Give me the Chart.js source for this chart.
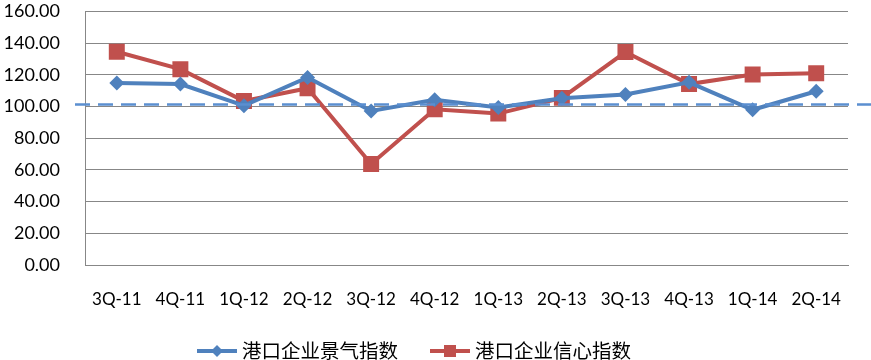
<!DOCTYPE html>
<html>
<head>
<meta charset="utf-8">
<script src="https://cdn.jsdelivr.net/npm/chart.js@4"></script>
<style>
  html, body { margin: 0; padding: 0; background: #fff; }
  #wrap { width: 871px; height: 360px; }
</style>
</head>
<body>
<div id="wrap"><canvas id="grafico"></canvas></div>
<script>
const categorias = ['3Q-11', '4Q-11', '1Q-12', '2Q-12', '3Q-12', '4Q-12', '1Q-13', '2Q-13', '3Q-13', '4Q-13', '1Q-14', '2Q-14'];
const jingqi = [114.8, 114.1, 100.5, 118.3, 97.1, 104.2, 99.3, 105.2, 107.5, 115.2, 97.9, 109.6];
const xinxin = [134.5, 123.5, 103.4, 111.5, 63.7, 98.2, 95.5, 105.4, 134.3, 114.1, 120.2, 121.0];
const nombres = ['港口企业景气指数', '港口企业信心指数'];
const linea_base = 101.3;

const azul = '#4f81bd';
const rojo = '#c0504d';
const fuente = "Lato, 'Noto Sans CJK SC', sans-serif";
const fuente_cjk = "'Noto Sans CJK SC', sans-serif";

// dashed reference line across the whole width
const lineaPunteada = {
    id: 'lineaPunteada',
    afterDatasetsDraw(chart) {
        const ctx = chart.ctx;
        const y = chart.scales.y.getPixelForValue(linea_base);
        ctx.save();
        ctx.strokeStyle = '#5b8fd0';
        ctx.lineWidth = 2.5;
        ctx.setLineDash([15, 8]);
        ctx.beginPath();
        ctx.moveTo(75, y);
        ctx.lineTo(chart.width, y);
        ctx.stroke();
        ctx.restore();
    }
};

// legend: line + marker + text, like the office chart
const leyenda = {
    id: 'leyenda',
    afterDraw(chart) {
        const ctx = chart.ctx;
        const y = 351;
        const inicios = [197, 430];
        const colores = [azul, rojo];
        ctx.save();
        nombres.forEach((nombre, i) => {
            const x = inicios[i];
            ctx.strokeStyle = colores[i];
            ctx.fillStyle = colores[i];
            ctx.lineWidth = 4;
            ctx.beginPath(); ctx.moveTo(x, y); ctx.lineTo(x + 40, y); ctx.stroke();
            ctx.beginPath();
            if (i === 0) {
                ctx.moveTo(x + 20, y - 6); ctx.lineTo(x + 26, y); ctx.lineTo(x + 20, y + 6); ctx.lineTo(x + 14, y);
            } else {
                ctx.rect(x + 14, y - 6, 12, 12);
            }
            ctx.closePath(); ctx.fill();
            ctx.fillStyle = '#000';
            ctx.font = '19.5px ' + fuente_cjk;
            ctx.textBaseline = 'middle';
            ctx.textAlign = 'left';
            ctx.fillText(nombre, x + 45, y);
        });
        ctx.restore();
    }
};

const ctx = document.getElementById('grafico').getContext('2d');
const grafico = new Chart(ctx, {
    type: 'line',
    data: {
        labels: categorias,
        datasets: [{
            label: nombres[0],
            data: jingqi,
            borderColor: azul,
            backgroundColor: azul,
            borderWidth: 4,
            pointStyle: 'rectRot',
            pointRadius: 7.5,
            pointHoverRadius: 7.5,
            pointBorderWidth: 0,
            tension: 0
        }, {
            label: nombres[1],
            data: xinxin,
            borderColor: rojo,
            backgroundColor: rojo,
            borderWidth: 4,
            pointStyle: 'rect',
            pointRadius: 11.3,
            pointHoverRadius: 11.3,
            pointBorderWidth: 0,
            tension: 0
        }]
    },
    options: {
        responsive: true,
        maintainAspectRatio: false,
        animation: false,
        layout: { padding: { top: 0, right: 23, left: 0, bottom: 0 } },
        plugins: {
            tooltip: { enabled: false },
            legend: { display: false }
        },
        scales: {
            x: {
                offset: true,
                afterFit: (scale) => { scale.height = 95; },
                grid: { display: false },
                border: { color: '#878787', width: 1 },
                ticks: { color: '#000', font: { family: fuente, size: 17 }, padding: 16, maxRotation: 0 }
            },
            y: {
                min: 0,
                max: 160,
                afterFit: (scale) => { scale.width = 85; },
                grid: { color: '#878787', lineWidth: 1, drawTicks: true, tickLength: 25, tickColor: 'rgba(0,0,0,0)' },
                border: { color: '#878787', width: 1 },
                ticks: {
                    stepSize: 20,
                    color: '#000',
                    font: { family: fuente, size: 18, lineHeight: 0.85 },
                    padding: 0,
                    callback: (v) => v.toFixed(2)
                }
            }
        }
    },
    plugins: [lineaPunteada, leyenda]
});
</script>
</body>
</html>
